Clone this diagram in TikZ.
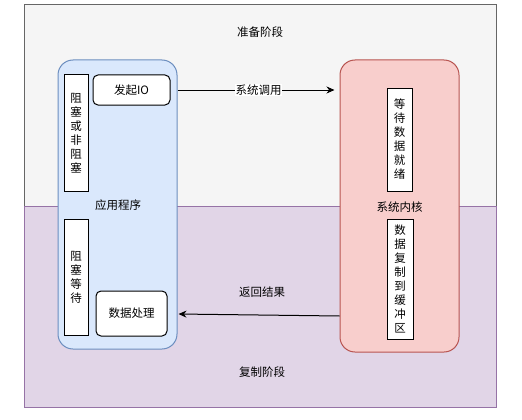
\documentclass[tikz,border=0pt]{standalone}
\usepackage{fontspec}
\setmainfont{Noto Sans CJK SC}
\usepackage{tikz}
\usetikzlibrary{arrows.meta,positioning}
\definecolor{prepgray}{HTML}{F5F5F5}
\definecolor{prepline}{HTML}{666666}
\definecolor{copyviolet}{HTML}{E1D5E7}
\definecolor{copyline}{HTML}{9673A6}
\definecolor{appblue}{HTML}{DAE8FC}
\definecolor{appline}{HTML}{6C8EBF}
\definecolor{kernred}{HTML}{F8CECC}
\definecolor{kernline}{HTML}{B85450}
\tikzset{
  stage/.style={draw, line width=1pt, minimum width=472pt, minimum height=201pt, inner sep=0pt},
  part/.style={draw, line width=1pt, rounded corners=15pt, minimum width=119pt, inner sep=0pt},
  vbox/.style={draw, fill=white, line width=1pt, align=center, inner sep=0pt,
               font=\fontsize{11.5}{14}\selectfont},
  stepbox/.style={draw, fill=white, line width=1pt, rounded corners=5pt, align=center,
                  inner sep=0pt, font=\fontsize{11.5}{14}\selectfont},
  txt/.style={font=\fontsize{11.5}{14}\selectfont, inner sep=1pt},
  arr/.style={-{Stealth[length=8pt,width=7pt]}, line width=1pt},
}
\begin{document}
\begin{tikzpicture}[x=1pt, y=-1pt]
    \useasboundingbox (0,0) rectangle (522,420);
    % two stages
    \node[stage, fill=prepgray, draw=prepline] (prep) at (260,105.5) {};
    \node[stage, fill=copyviolet, draw=copyline] (copy) at (260,306.5) {};
    \node[txt] (preplab) at (260,32) {准备阶段};
    \node[txt] (copylab) at (262,372) {复制阶段};
    % application and kernel
    \node[part, fill=appblue, draw=appline, minimum height=289pt] (app) at (117.5,204.5) {};
    \node[part, fill=kernred, draw=kernline, minimum height=292pt] (kern) at (399.5,206) {};
    \node[txt] (applab) at (118,205) {应用程序};
    \node[txt] (kernlab) at (399.5,207) {系统内核};
    \node[vbox, minimum width=24pt, minimum height=116pt] (blk1) at (76,133) {阻\\塞\\或\\非\\阻\\塞};
    \node[vbox, minimum width=24pt, minimum height=116pt] (blk2) at (76,277) {阻\\塞\\等\\待};
    \node[stepbox, minimum width=77pt, minimum height=30pt] (io) at (131.5,90) {发起IO};
    \node[stepbox, minimum width=71pt, minimum height=45pt] (proc) at (131.5,313.5) {数据处理};
    \node[vbox, minimum width=25pt, minimum height=103pt] (wait) at (399.5,139.5) {等\\待\\数\\据\\就\\绪};
    \node[vbox, minimum width=26pt, minimum height=120pt] (copyk) at (400,279) {数\\据\\复\\制\\到\\缓\\冲\\区};
    % calls
    \draw[arr, shorten >=5pt] (io.east -| app.east) -- node[txt, fill=white, inner sep=0.5pt]{系统调用} (io.east -| kern.west);
    \draw[arr, shorten >=1pt] ([yshift=-110pt]kern.west) -- ([yshift=-109.5pt]app.east);
    \node[txt] (retlab) at (262,292) {返回结果};
  \end{tikzpicture}
\end{document}
